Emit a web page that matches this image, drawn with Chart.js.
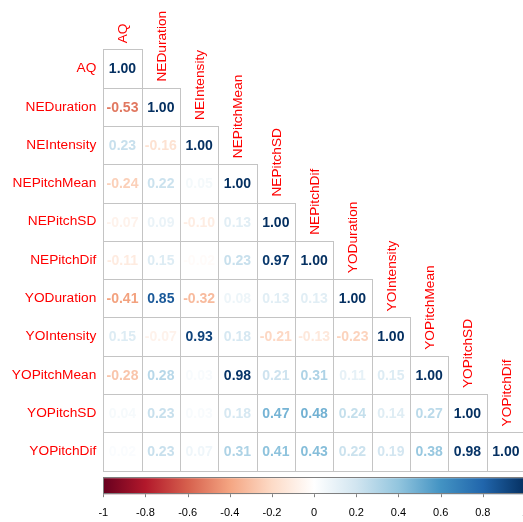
<!DOCTYPE html>
<html><head><meta charset="utf-8">
<script src="https://cdn.jsdelivr.net/npm/chart.js@4/dist/chart.umd.min.js"></script>
<style>html,body{margin:0;padding:0;background:#fff;overflow:hidden}
#wrap{width:523px;height:522px;overflow:hidden}
canvas{display:block}
</style></head><body><div id="wrap"><canvas id="c" width="526" height="522"></canvas></div>
<script>
const variables = ["AQ","NEDuration","NEIntensity","NEPitchMean","NEPitchSD","NEPitchDif","YODuration","YOIntensity","YOPitchMean","YOPitchSD","YOPitchDif"];
const corrAQ          = [1.00];
const corrNEDuration  = [-0.53, 1.00];
const corrNEIntensity = [0.23, -0.16, 1.00];
const corrNEPitchMean = [-0.24, 0.22, 0.05, 1.00];
const corrNEPitchSD   = [-0.07, 0.09, -0.10, 0.13, 1.00];
const corrNEPitchDif  = [-0.11, 0.15, -0.02, 0.23, 0.97, 1.00];
const corrYODuration  = [-0.41, 0.85, -0.32, 0.08, 0.13, 0.13, 1.00];
const corrYOIntensity = [0.15, -0.07, 0.93, 0.18, -0.21, -0.13, -0.23, 1.00];
const corrYOPitchMean = [-0.28, 0.28, 0.03, 0.98, 0.21, 0.31, 0.11, 0.15, 1.00];
const corrYOPitchSD   = [0.04, 0.23, 0.03, 0.18, 0.47, 0.48, 0.24, 0.14, 0.27, 1.00];
const corrYOPitchDif  = [0.02, 0.23, 0.07, 0.31, 0.41, 0.43, 0.22, 0.19, 0.38, 0.98, 1.00];
const corrRows = [corrAQ, corrNEDuration, corrNEIntensity, corrNEPitchMean, corrNEPitchSD, corrNEPitchDif,
                  corrYODuration, corrYOIntensity, corrYOPitchMean, corrYOPitchSD, corrYOPitchDif];
const colorbarTicks = [-1, -0.8, -0.6, -0.4, -0.2, 0, 0.2, 0.4, 0.6, 0.8, 1];
const paletteRdBu = ["#67001F","#B2182B","#D6604D","#F4A582","#FDDBC7","#FFFFFF","#D1E5F0","#92C5DE","#4393C3","#2166AC","#053061"];

function hexToRgb(h){ const n=parseInt(h.slice(1),16); return [(n>>16)&255,(n>>8)&255,n&255]; }
function colorFor(v){
  const n = paletteRdBu.length;
  const t = (v+1)/2*(n-1);
  const i = Math.max(0, Math.min(Math.floor(t), n-2));
  const f = t - i;
  const a = hexToRgb(paletteRdBu[i]), b = hexToRgb(paletteRdBu[i+1]);
  const c = a.map((x,k)=>Math.round(x+(b[k]-x)*f));
  return `rgb(${c[0]},${c[1]},${c[2]})`;
}

const FONT = '"Liberation Sans", Arial, sans-serif';
const GRID_COLOR = '#c4c4c4';
const LABEL_SIZE = 13.7;

const datasets = corrRows.map((row, i) => ({
  label: variables[i],
  data: variables.map((_, j) => j <= i ? [i, i + 1] : null),
  values: row,
  backgroundColor: '#ffffff',
  borderWidth: 0,
  grouped: false,
  barPercentage: 1,
  categoryPercentage: 1
}));

const corrplotPlugin = {
  id: 'corrplot',
  afterDatasetsDraw(chart) {
    const ctx = chart.ctx;
    const xs = chart.scales.x, ys = chart.scales.y, cb = chart.scales.cb;
    ctx.save();
    // cell outlines
    ctx.strokeStyle = GRID_COLOR;
    ctx.lineWidth = 1;
    chart.data.datasets.forEach((ds, i) => {
      const meta = chart.getDatasetMeta(i);
      meta.data.forEach((el, j) => {
        if (j > i) return;
        const p = el.getProps(['x','y','base','width'], true);
        const l = Math.round(p.x - p.width/2) + 0.5, r = Math.round(p.x + p.width/2) + 0.5;
        const t = Math.round(Math.min(p.y, p.base)) + 0.5, b = Math.round(Math.max(p.y, p.base)) + 0.5;
        ctx.strokeRect(l, t, r - l, b - t);
      });
    });
    // numbers
    ctx.font = 'bold 14px ' + FONT;
    ctx.textAlign = 'center';
    ctx.textBaseline = 'middle';
    chart.data.datasets.forEach((ds, i) => {
      const meta = chart.getDatasetMeta(i);
      meta.data.forEach((el, j) => {
        if (j > i) return;
        const p = el.getProps(['x','y','base'], true);
        const v = ds.values[j];
        ctx.fillStyle = colorFor(v);
        ctx.fillText(v.toFixed(2), p.x, (p.y + p.base)/2 + 1);
      });
    });
    // column labels (staircase)
    ctx.font = LABEL_SIZE + 'px ' + FONT;
    ctx.fillStyle = '#ff0000';
    ctx.textAlign = 'left';
    ctx.textBaseline = 'middle';
    variables.forEach((name, j) => {
      const x = xs.getPixelForValue(j);
      const y = ys.getPixelForValue(j);
      ctx.save();
      ctx.translate(x + 1, y - 6);
      ctx.rotate(-Math.PI/2);
      ctx.fillText(name, 0, 0);
      ctx.restore();
    });
    // colour bar
    const x0 = cb.getPixelForValue(-1), x1 = cb.getPixelForValue(1);
    const y0 = cb.top + 7.5, h = 16;
    const g = ctx.createLinearGradient(x0, 0, x1, 0);
    paletteRdBu.forEach((c, k) => g.addColorStop(k/(paletteRdBu.length-1), c));
    ctx.fillStyle = g;
    ctx.fillRect(x0, y0, x1 - x0, h);
    ctx.strokeStyle = '#7f7f7f';
    ctx.lineWidth = 1;
    ctx.strokeRect(Math.round(x0)+0.5, Math.round(y0)-0.5, Math.round(x1-x0), h);
    colorbarTicks.forEach(v => {
      const px = Math.round(cb.getPixelForValue(v)) + 0.5;
      ctx.beginPath();
      ctx.moveTo(px, y0 + h);
      ctx.lineTo(px, y0 + h + 3);
      ctx.stroke();
    });
    ctx.restore();
  }
};

new Chart(document.getElementById('c'), {
  type: 'bar',
  data: { labels: variables, datasets },
  options: {
    responsive: false,
    devicePixelRatio: 1,
    animation: false,
    layout: { padding: { top: 49.3, right: 1, left: 0, bottom: 0 } },
    plugins: { legend: { display: false }, tooltip: { enabled: false } },
    scales: {
      x: { type: 'category', display: false, offset: true },
      y: {
        type: 'linear', position: 'left', reverse: true, min: 0, max: 11,
        afterBuildTicks: s => { s.ticks = variables.map((_, i) => ({ value: i + 0.5 })); },
        afterFit: s => { s.width = 103.3; s.paddingTop = 0; s.paddingBottom = 0; },
        ticks: {
          autoSkip: false, padding: 7, color: '#ff0000',
          font: { family: FONT, size: LABEL_SIZE },
          callback: v => variables[Math.floor(v)]
        },
        grid: { display: false, drawTicks: false },
        border: { display: false }
      },
      cb: {
        type: 'linear', axis: 'x', position: 'bottom', min: -1, max: 1, offset: false,
        afterBuildTicks: s => { s.ticks = colorbarTicks.map(v => ({ value: v })); },
        afterFit: s => { s.height = 51.3; s.paddingLeft = 0; s.paddingRight = 0; },
        ticks: {
          autoSkip: false, maxRotation: 0, padding: 2, color: '#000000',
          font: { family: FONT, size: 11 },
          callback: v => String(v)
        },
        grid: { display: true, drawOnChartArea: false, drawTicks: true, tickLength: 34, offset: false, color: 'rgba(0,0,0,0)' },
        border: { display: false }
      }
    }
  },
  plugins: [corrplotPlugin]
});
</script></body></html>
